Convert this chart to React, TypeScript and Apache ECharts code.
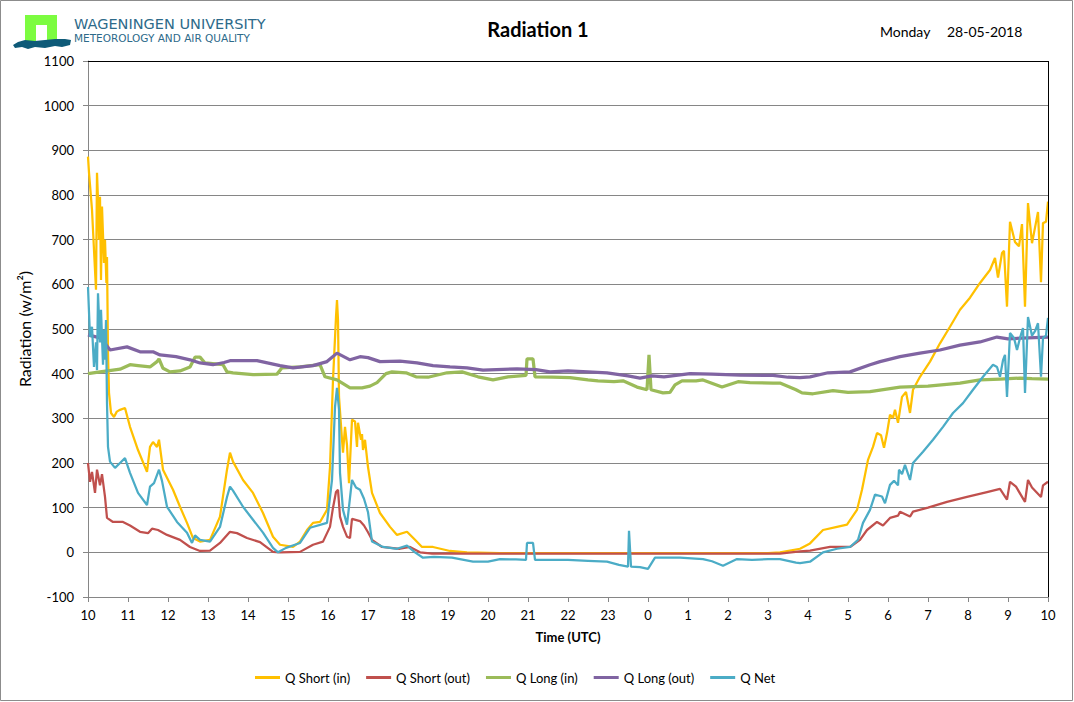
// Grafico de linhas (ECharts) da radiacao medida em Wageningen durante 24 h, das 10:00
// ate as 10:00 UTC do dia seguinte. O eixo X e numerico (horas desde as 10:00) e os
// rotulos mostram a hora do relogio.
import { useEffect, useRef } from 'react'
import * as echarts from 'echarts'

// rotulos do eixo X, um por hora (posicao 0 = 10:00 UTC)
const hourLabels = ['10', '11', '12', '13', '14', '15', '16', '17', '18', '19', '20', '21', '22', '23', '0', '1', '2', '3', '4', '5', '6', '7', '8', '9', '10']

const seriesNames = ['Q Short (in)', 'Q Short (out)', 'Q Long (in)', 'Q Long (out)', 'Q Net']

// [horas desde 10:00, W/m2]
const qShortIn: [number, number][] = [
  [0, 886], [0.025, 850], [0.1, 767], [0.15, 677], [0.2, 588], [0.225, 850], [0.25, 789], [0.275, 700],
  [0.3, 796], [0.325, 610], [0.35, 774], [0.4, 648], [0.425, 700], [0.46, 603], [0.475, 661], [0.5, 446],
  [0.525, 357], [0.575, 312], [0.65, 303], [0.72, 315], [0.8, 319], [0.925, 323], [1.05, 281], [1.25, 229],
  [1.475, 180], [1.55, 236], [1.625, 247], [1.725, 236], [1.775, 252], [1.875, 185], [2.125, 140], [2.3, 102],
  [2.475, 66], [2.625, 32], [2.8, 24], [3.05, 28], [3.3, 80], [3.475, 185], [3.55, 223], [3.625, 203],
  [3.875, 162], [4.125, 133], [4.375, 88], [4.625, 35], [4.8, 17], [5.125, 12], [5.3, 24], [5.475, 50],
  [5.625, 66], [5.8, 68], [5.975, 95], [6.05, 191], [6.125, 386], [6.2, 527], [6.225, 565], [6.25, 520],
  [6.275, 348], [6.35, 252], [6.375, 223], [6.425, 281], [6.475, 240], [6.525, 155], [6.6, 297], [6.675, 293],
  [6.725, 236], [6.75, 290], [6.825, 252], [6.85, 265], [6.875, 229], [6.925, 252], [7.0, 191], [7.1, 133],
  [7.3, 88], [7.55, 57], [7.725, 39], [7.975, 46], [8.175, 28], [8.35, 12], [8.625, 12], [9.05, 3],
  [9.475, 0], [10.3, -2], [17.0, -2], [17.3, 0], [17.8, 8], [18.05, 20], [18.375, 50], [18.725, 57],
  [18.975, 62], [19.225, 95], [19.35, 140], [19.5, 207], [19.625, 236], [19.725, 267], [19.825, 262], [19.9, 234],
  [19.975, 267], [20.05, 308], [20.125, 301], [20.175, 319], [20.25, 290], [20.35, 348], [20.45, 359], [20.55, 312],
  [20.625, 364], [20.8, 393], [21.05, 427], [21.3, 468], [21.55, 505], [21.8, 543], [22.05, 570], [22.3, 603],
  [22.55, 632], [22.675, 659], [22.75, 615], [22.85, 670], [22.9, 675], [22.975, 550], [23.05, 740], [23.175, 695],
  [23.275, 685], [23.35, 735], [23.425, 550], [23.5, 782], [23.6, 692], [23.675, 727], [23.75, 762], [23.825, 605],
  [23.875, 737], [23.95, 740], [24, 785],
]

const qShortOut: [number, number][] = [
  [0, 200], [0.05, 158], [0.1, 180], [0.175, 133], [0.225, 185], [0.3, 150], [0.35, 175], [0.425, 124],
  [0.475, 77], [0.625, 68], [0.875, 68], [1.05, 60], [1.3, 46], [1.5, 43], [1.6, 53], [1.75, 50],
  [1.975, 39], [2.3, 28], [2.55, 12], [2.8, 3], [3.05, 4], [3.3, 21], [3.55, 46], [3.725, 43],
  [3.975, 32], [4.3, 23], [4.625, 1], [4.8, 0], [5.3, 1], [5.625, 17], [5.875, 24], [6.05, 57],
  [6.125, 100], [6.2, 135], [6.25, 140], [6.3, 80], [6.375, 57], [6.475, 35], [6.55, 32], [6.6, 75],
  [6.8, 70], [6.9, 60], [7.0, 45], [7.1, 28], [7.35, 12], [7.8, 8], [8.05, 12], [8.3, 0],
  [8.6, -3], [17.3, -3], [17.8, 2], [18.05, 4], [18.55, 12], [19.05, 12], [19.3, 28], [19.475, 50],
  [19.725, 68], [19.875, 60], [20.05, 77], [20.25, 82], [20.3, 91], [20.55, 80], [20.625, 91], [21.0, 100],
  [21.475, 113], [21.975, 124], [22.475, 135], [22.8, 142], [22.975, 118], [23.05, 158], [23.2, 147], [23.425, 113],
  [23.5, 162], [23.6, 145], [23.825, 124], [23.875, 150], [24, 158],
]

const qLongIn: [number, number][] = [
  [0, 400], [0.3, 404], [0.625, 408], [0.8, 410], [1.05, 420], [1.25, 418], [1.55, 415], [1.725, 427],
  [1.775, 433], [1.875, 412], [2.05, 404], [2.3, 406], [2.55, 415], [2.675, 437], [2.8, 437], [2.925, 424],
  [3.375, 420], [3.475, 404], [3.625, 402], [4.125, 398], [4.725, 399], [4.85, 413], [5.3, 415], [5.8, 420],
  [5.925, 393], [6.225, 386], [6.55, 368], [6.85, 368], [7.05, 372], [7.225, 380], [7.45, 400], [7.6, 404],
  [7.95, 402], [8.2, 393], [8.5, 392], [8.975, 402], [9.35, 404], [9.75, 393], [10.125, 386], [10.5, 393],
  [10.95, 396], [10.975, 433], [11.125, 433], [11.175, 393], [11.6, 392], [12.05, 391], [12.5, 386], [12.75, 384],
  [13.15, 382], [13.375, 384], [13.725, 370], [13.975, 364], [14.025, 442], [14.075, 364], [14.375, 357], [14.55, 358],
  [14.675, 375], [14.85, 384], [15.2, 384], [15.375, 386], [15.85, 370], [16.25, 382], [16.55, 380], [17.125, 379],
  [17.3, 379], [17.7, 364], [17.85, 357], [18.125, 355], [18.625, 362], [19.0, 358], [19.55, 360], [20.3, 370],
  [21.0, 372], [21.8, 379], [22.3, 386], [22.8, 388], [23.3, 390], [23.6, 389], [24, 388],
]

const qLongOut: [number, number][] = [
  [0, 487], [0.3, 480], [0.45, 465], [0.55, 453], [0.975, 460], [1.3, 449], [1.625, 449], [1.8, 442],
  [2.2, 438], [2.55, 431], [2.8, 424], [3.125, 420], [3.4, 425], [3.55, 429], [4.225, 429], [4.8, 418],
  [5.125, 413], [5.625, 418], [5.975, 427], [6.225, 446], [6.55, 431], [6.8, 438], [7.0, 436], [7.3, 427],
  [7.8, 428], [8.225, 424], [8.625, 418], [9.05, 415], [9.475, 413], [9.875, 408], [10.725, 411], [11.2, 409],
  [11.55, 404], [12.0, 406], [12.5, 404], [12.975, 402], [13.5, 395], [13.8, 390], [14.1, 395], [14.4, 393],
  [15.05, 400], [15.6, 399], [16.3, 397], [17.125, 396], [17.5, 392], [17.8, 391], [18.05, 393], [18.5, 402],
  [19.05, 404], [19.55, 420], [19.8, 427], [20.3, 438], [20.8, 446], [21.3, 453], [21.8, 464], [22.3, 471],
  [22.725, 482], [23.0, 478], [23.5, 480], [24, 482],
]

const qNet: [number, number][] = [
  [0, 594], [0.05, 482], [0.1, 505], [0.15, 415], [0.2, 470], [0.225, 408], [0.25, 580], [0.3, 470],
  [0.325, 543], [0.375, 420], [0.4, 498], [0.425, 431], [0.45, 520], [0.475, 334], [0.5, 236], [0.55, 203],
  [0.675, 189], [0.8, 200], [0.925, 211], [1.05, 178], [1.25, 133], [1.475, 106], [1.55, 147], [1.65, 155],
  [1.775, 185], [1.85, 160], [1.975, 102], [2.225, 68], [2.475, 44], [2.6, 21], [2.675, 38], [2.8, 28],
  [3.05, 24], [3.3, 57], [3.475, 124], [3.55, 147], [3.625, 138], [3.875, 102], [4.125, 73], [4.375, 44],
  [4.625, 10], [4.75, 0], [4.95, 10], [5.3, 21], [5.55, 55], [5.975, 66], [6.1, 162], [6.175, 325],
  [6.225, 368], [6.275, 320], [6.3, 178], [6.375, 95], [6.475, 62], [6.6, 162], [6.7, 145], [6.8, 140],
  [6.9, 120], [7.0, 90], [7.1, 24], [7.375, 12], [7.725, 8], [7.975, 15], [8.175, 0], [8.375, -12],
  [8.65, -10], [9.1, -12], [9.625, -21], [10.0, -21], [10.3, -15], [10.7, -16], [10.95, -17], [10.975, 21],
  [11.125, 21], [11.175, -17], [11.45, -17], [12.0, -17], [12.5, -19], [12.975, -21], [13.275, -28], [13.5, -32],
  [13.525, 48], [13.575, -32], [13.8, -33], [14.0, -37], [14.175, -12], [14.8, -12], [15.375, -15], [15.6, -20],
  [15.875, -30], [16.225, -15], [16.6, -17], [17.0, -15], [17.3, -15], [17.7, -23], [17.8, -24], [18.05, -21],
  [18.375, 0], [18.725, 8], [19.05, 12], [19.25, 28], [19.375, 66], [19.55, 95], [19.675, 129], [19.85, 125],
  [19.925, 110], [20.05, 151], [20.15, 160], [20.25, 150], [20.275, 185], [20.35, 175], [20.425, 196], [20.55, 162],
  [20.625, 200], [20.875, 225], [21.125, 252], [21.375, 281], [21.625, 312], [21.875, 334], [22.125, 364], [22.375, 393],
  [22.625, 420], [22.725, 415], [22.8, 393], [22.875, 430], [22.925, 442], [22.975, 348], [23.05, 491], [23.15, 480],
  [23.225, 453], [23.3, 480], [23.375, 502], [23.425, 357], [23.5, 527], [23.6, 485], [23.675, 495], [23.75, 513],
  [23.825, 393], [23.875, 480], [23.95, 485], [24, 525],
]

const seriesData = [qShortIn, qShortOut, qLongIn, qLongOut, qNet]

const coresSeries = ['#FFC000', '#C0504D', '#9BBB59', '#8064A2', '#4BACC6']
const largurasSeries = [2.25, 2.25, 3.25, 3.25, 2.25]

const FONTE = 'Lato, "Open Sans", sans-serif'
const CINZA = '#868686'

export default function App() {
  const containerRef = useRef<HTMLDivElement>(null)

  useEffect(() => {
    if (!containerRef.current) return
    const instancia = echarts.init(containerRef.current, null, { renderer: 'svg' })

    instancia.setOption({
      animation: false,
      backgroundColor: '#fff',
      textStyle: { fontFamily: FONTE, color: '#000' },
      grid: { left: 88, right: 26, top: 61, bottom: 105, outerBoundsMode: 'none' },
      legend: {
        left: 255,
        top: 671,
        padding: 0,
        itemWidth: 25,
        itemHeight: 3,
        itemGap: 16,
        icon: 'rect',
        data: seriesNames,
        textStyle: { fontFamily: FONTE, fontSize: 13, color: '#000' },
      },
      xAxis: {
        type: 'value',
        min: 0,
        max: 24,
        interval: 1,
        name: 'Time (UTC)',
        nameLocation: 'middle',
        nameGap: 33,
        nameTextStyle: { fontFamily: FONTE, fontSize: 13, fontWeight: 'bold', color: '#000' },
        axisLine: { show: true, onZero: false, lineStyle: { color: CINZA, width: 1 } },
        axisTick: { show: true, inside: false, length: 5, lineStyle: { color: CINZA } },
        axisLabel: {
          margin: 11,
          fontSize: 13,
          color: '#000',
          fontFamily: FONTE,
          formatter: (v: number) => hourLabels[Math.round(v)] ?? '',
        },
        splitLine: { show: false },
      },
      yAxis: {
        type: 'value',
        min: -100,
        max: 1100,
        interval: 100,
        name: 'Radiation (w/m²)',
        nameLocation: 'middle',
        nameGap: 38,
        nameRotate: 90,
        nameTextStyle: { fontFamily: FONTE, fontSize: 16, color: '#000' },
        axisLine: { show: true, lineStyle: { color: CINZA, width: 1 } },
        axisTick: { show: true, inside: false, length: 5, lineStyle: { color: CINZA } },
        axisLabel: { margin: 14, fontSize: 13, color: '#000', fontFamily: FONTE, formatter: (v: number) => String(v) },
        splitLine: { show: true, lineStyle: { color: CINZA, width: 1 } },
      },
      graphic: [
        // moldura externa
        { type: 'rect', silent: true, z: -10, shape: { x: 0.5, y: 0.5, width: 1072, height: 700 }, style: { fill: 'none', stroke: '#8c8c8c', lineWidth: 1 } },
        // borda preta da area de plotagem (topo e direita)
        { type: 'line', silent: true, z: 100, shape: { x1: 88, y1: 61.5, x2: 1048.5, y2: 61.5 }, style: { stroke: '#000', lineWidth: 1 } },
        { type: 'line', silent: true, z: 100, shape: { x1: 1048.5, y1: 61, x2: 1048.5, y2: 597 }, style: { stroke: '#000', lineWidth: 1 } },
        // logotipo
        { type: 'rect', silent: true, shape: { x: 25, y: 15, width: 32, height: 27 }, style: { fill: '#7CFC40' } },
        { type: 'rect', silent: true, shape: { x: 36, y: 25, width: 11, height: 17 }, style: { fill: '#fff' } },
        {
          type: 'polygon',
          silent: true,
          shape: {
            points: [[13, 45], [18, 42], [25, 40], [35, 41], [45, 40], [55, 39], [65, 39], [71, 40], [70, 45], [62, 47], [55, 46], [45, 48], [35, 47], [28, 49], [22, 47], [15, 48]],
          },
          style: { fill: '#0E5A78' },
        },
        { type: 'text', silent: true, x: 74, y: 24, style: { text: 'WAGENINGEN UNIVERSITY', fontFamily: '"DejaVu Sans", sans-serif', fontSize: 14.5, fill: '#2d6a8a', verticalAlign: 'middle' } },
        { type: 'text', silent: true, x: 74, y: 38, style: { text: 'METEOROLOGY AND AIR QUALITY', fontFamily: '"DejaVu Sans", sans-serif', fontSize: 10.5, fill: '#2d6a8a', verticalAlign: 'middle' } },
        // titulo e data
        { type: 'text', silent: true, x: 538, y: 29, style: { text: 'Radiation 1', fontFamily: FONTE, fontSize: 20, fontWeight: 'bold', fill: '#000', align: 'center', verticalAlign: 'middle' } },
        { type: 'text', silent: true, x: 880, y: 31, style: { text: 'Monday', fontFamily: FONTE, fontSize: 14, fill: '#000', verticalAlign: 'middle' } },
        { type: 'text', silent: true, x: 947, y: 31, style: { text: '28-05-2018', fontFamily: FONTE, fontSize: 14, fill: '#000', verticalAlign: 'middle' } },
      ],
      series: seriesNames.map((nome, i) => ({
        name: nome,
        type: 'line',
        data: seriesData[i],
        symbol: 'none',
        showSymbol: false,
        z: 2 + i,
        lineStyle: { color: coresSeries[i], width: largurasSeries[i] },
        itemStyle: { color: coresSeries[i] },
        emphasis: { disabled: true },
      })),
    })

    return () => {
      instancia.dispose()
    }
  }, [])

  return (
    <div
      ref={containerRef}
      style={{ position: 'absolute', left: 0, top: 0, width: 1074, height: 702, background: '#fff' }}
    />
  )
}
